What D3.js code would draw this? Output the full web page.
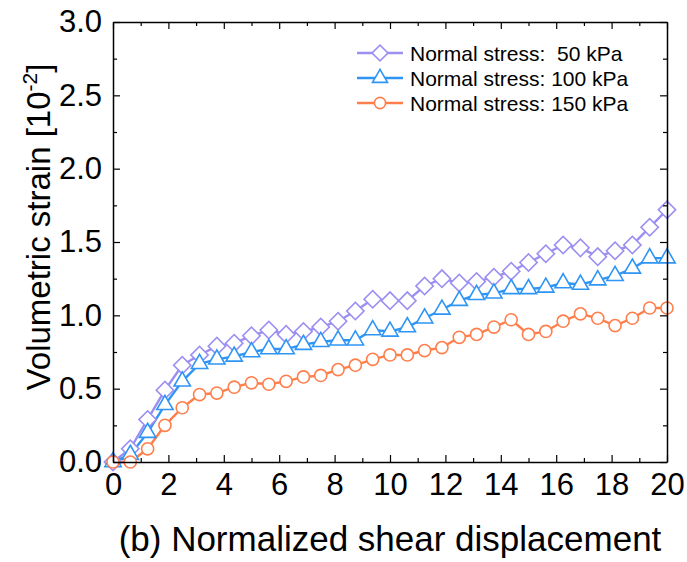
<!DOCTYPE html>
<html>
<head>
<meta charset="utf-8">
<script src="https://cdn.jsdelivr.net/npm/d3@7"></script>
<style>
  body { margin: 0; background: #fff; }
  svg { display: block; font-family: "Liberation Sans", Arial, sans-serif; }
</style>
</head>
<body>
<script>
// shared x positions (normalized shear displacement)
const displacement = [0, 0.625, 1.25, 1.875, 2.5, 3.125, 3.75, 4.375, 5, 5.625, 6.25,
  6.875, 7.5, 8.125, 8.75, 9.375, 10, 10.625, 11.25, 11.875, 12.5, 13.125, 13.75,
  14.375, 15, 15.625, 16.25, 16.875, 17.5, 18.125, 18.75, 19.375, 20];

const stress50 = [0, 0.09, 0.29, 0.49, 0.66, 0.73, 0.79, 0.81, 0.86, 0.90, 0.87,
  0.89, 0.92, 0.96, 1.03, 1.11, 1.10, 1.10, 1.20, 1.25, 1.22, 1.23, 1.26,
  1.30, 1.36, 1.42, 1.48, 1.46, 1.40, 1.44, 1.48, 1.60, 1.72];
const stress100 = [0, 0.05, 0.20, 0.39, 0.55, 0.67, 0.70, 0.72, 0.75, 0.77, 0.77,
  0.80, 0.82, 0.83, 0.83, 0.90, 0.89, 0.92, 0.98, 1.04, 1.10, 1.14, 1.15,
  1.18, 1.18, 1.19, 1.22, 1.21, 1.24, 1.27, 1.32, 1.39, 1.39];
const stress150 = [0, 0.00, 0.09, 0.25, 0.37, 0.46, 0.47, 0.51, 0.54, 0.53, 0.55,
  0.58, 0.59, 0.63, 0.66, 0.70, 0.73, 0.73, 0.76, 0.78, 0.85, 0.87, 0.92,
  0.97, 0.87, 0.89, 0.96, 1.01, 0.98, 0.93, 0.98, 1.05, 1.05];

const seriesNames = ["Normal stress:  50 kPa", "Normal stress: 100 kPa", "Normal stress: 150 kPa"];
const xTicks = [0, 2, 4, 6, 8, 10, 12, 14, 16, 18, 20];
const yTicks = [0, 0.5, 1.0, 1.5, 2.0, 2.5, 3.0];

const width = 687, height = 562;
const margin = {left: 113, right: 20, top: 22, bottom: 100};

const svg = d3.select("body").append("svg")
  .attr("width", width)
  .attr("height", height);

const x = d3.scaleLinear().domain([0, 20]).range([margin.left, width - margin.right]);
const y = d3.scaleLinear().domain([0, 3]).range([height - margin.bottom, margin.top]);

const series = [
  {name: seriesNames[0], values: stress50, color: "#9b8ff2", shape: "diamond"},
  {name: seriesNames[1], values: stress100, color: "#2f95f5", shape: "triangle"},
  {name: seriesNames[2], values: stress150, color: "#ff7f4c", shape: "circle"}
];

const symbolTypes = {diamond: d3.symbolSquare, triangle: d3.symbolTriangle, circle: d3.symbolCircle};
const symbolSizes = {diamond: 150, triangle: 115, circle: 115};

function drawMarker(sel, shape, color, scale) {
  sel.append("path")
    .attr("d", d3.symbol().type(symbolTypes[shape]).size(symbolSizes[shape] * scale)())
    .attr("transform", shape === "diamond" ? "rotate(45)" : null)
    .attr("fill", "#fff")
    .attr("stroke", color)
    .attr("stroke-width", 1.6);
}

// lines + markers
const line = d3.line()
  .x((d, i) => x(displacement[i]))
  .y(d => y(d));

const plot = svg.append("g").attr("class", "series");
series.forEach(s => {
  plot.append("path")
    .datum(s.values)
    .attr("fill", "none")
    .attr("stroke", s.color)
    .attr("stroke-width", 2.4)
    .attr("d", line);
});
series.forEach(s => {
  plot.selectAll(null)
    .data(s.values)
    .enter()
    .append("g")
    .attr("transform", (d, i) => `translate(${x(displacement[i])},${y(d)})`)
    .each(function() { drawMarker(d3.select(this), s.shape, s.color, 1); });
});

// axes, ticks pointing inwards
const xMinor = d3.range(1, 20, 2);
const yMinor = [0.25, 0.75, 1.25, 1.75, 2.25, 2.75];
const axisStyle = g => {
  g.selectAll("path.domain").attr("stroke", "#000").attr("stroke-width", 1.5);
  g.selectAll(".tick line").attr("stroke", "#000").attr("stroke-width", 1.2);
};
const labelStyle = g => g.selectAll("text")
  .attr("font-size", 31).attr("fill", "#000")
  .attr("font-family", "Liberation Sans, Arial, sans-serif");

svg.append("g")
  .attr("transform", `translate(0,${y(0)})`)
  .call(d3.axisBottom(x).tickValues(xTicks).tickSizeInner(-7).tickSizeOuter(0).tickPadding(11).tickFormat(d3.format("d")))
  .call(axisStyle)
  .call(labelStyle);
svg.append("g")
  .attr("transform", `translate(0,${y(0)})`)
  .call(d3.axisBottom(x).tickValues(xMinor).tickSize(-4).tickFormat(""))
  .call(axisStyle)
  .call(g => g.select(".domain").remove());

svg.append("g")
  .attr("transform", `translate(0,${y(3)})`)
  .call(d3.axisTop(x).tickValues(xTicks).tickSizeInner(-7).tickSizeOuter(0).tickFormat(""))
  .call(axisStyle);
svg.append("g")
  .attr("transform", `translate(0,${y(3)})`)
  .call(d3.axisTop(x).tickValues(xMinor).tickSize(-4).tickFormat(""))
  .call(axisStyle)
  .call(g => g.select(".domain").remove());

svg.append("g")
  .attr("transform", `translate(${x(0)},0)`)
  .call(d3.axisLeft(y).tickValues(yTicks).tickSizeInner(-7).tickSizeOuter(0).tickPadding(11).tickFormat(d3.format(".1f")))
  .call(axisStyle)
  .call(labelStyle);
svg.append("g")
  .attr("transform", `translate(${x(0)},0)`)
  .call(d3.axisLeft(y).tickValues(yMinor).tickSize(-4).tickFormat(""))
  .call(axisStyle)
  .call(g => g.select(".domain").remove());

svg.append("g")
  .attr("transform", `translate(${x(20)},0)`)
  .call(d3.axisRight(y).tickValues(yTicks).tickSizeInner(-7).tickSizeOuter(0).tickFormat(""))
  .call(axisStyle);
svg.append("g")
  .attr("transform", `translate(${x(20)},0)`)
  .call(d3.axisRight(y).tickValues(yMinor).tickSize(-4).tickFormat(""))
  .call(axisStyle)
  .call(g => g.select(".domain").remove());

// axis titles
svg.append("text")
  .attr("x", (x(0) + x(20)) / 2)
  .attr("y", 551)
  .attr("text-anchor", "middle")
  .attr("font-size", 35)
  .text("(b) Normalized shear displacement");

const yTitle = svg.append("text")
  .attr("transform", `translate(50,${(y(0) + y(3)) / 2 - 15}) rotate(-90)`)
  .attr("text-anchor", "middle")
  .attr("font-size", 33);
yTitle.append("tspan").text("Volumetric strain [10");
yTitle.append("tspan").attr("font-size", 21).attr("dy", -13).text("-2");
yTitle.append("tspan").attr("dy", 13).text("]");

// legend
const legend = svg.append("g").attr("class", "legend");
const rows = legend.selectAll("g")
  .data(series)
  .enter()
  .append("g")
  .attr("transform", (d, i) => `translate(357,${53 + i * 25})`);
rows.append("line")
  .attr("x1", 0).attr("x2", 46)
  .attr("stroke", d => d.color)
  .attr("stroke-width", 2.4);
rows.append("g")
  .attr("transform", "translate(23,0)")
  .each(function(d) { drawMarker(d3.select(this), d.shape, d.color, 0.85); });
rows.append("text")
  .attr("x", 53)
  .attr("y", 7.5)
  .attr("font-size", 21)
  .attr("xml:space", "preserve")
  .text(d => d.name);
</script>
</body>
</html>
